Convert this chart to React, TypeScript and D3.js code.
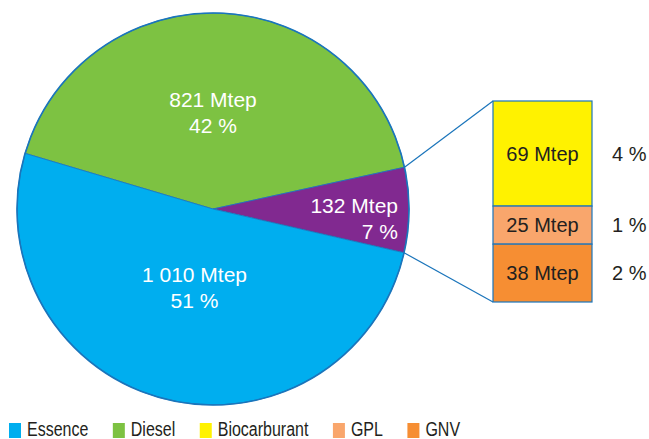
import React, { useEffect, useRef } from 'react';
import * as d3 from 'd3';

// main pie
const pieLabels = ['Diesel', 'Autres', 'Essence'];
const pieValues = [821, 132, 1010];
const pieShares = [42, 7, 51];
const pieColors = ['#7dc242', '#812990', '#00aeef'];

// breakdown of the 132 Mtep slice
const subLabels = ['Biocarburant', 'GPL', 'GNV'];
const subValues = [69, 25, 38];
const subShares = [4, 1, 2];
const subColors = ['#fff200', '#f9a66c', '#f68e33'];

const legendLabels = ['Essence', 'Diesel', 'Biocarburant', 'GPL', 'GNV'];
const legendColors = ['#00aeef', '#7dc242', '#fff200', '#f9a66c', '#f68e33'];

const FONT = 'Liberation Sans, Arial, Helvetica, sans-serif';
const EDGE = '#1b75bb';
const INK = '#231f20';

const App = () => {
    const svgRef = useRef(null);

    useEffect(() => {
        const svg = d3.select(svgRef.current);
        const width = 649;
        const height = 439;
        const cx = 213;
        const cy = 209;
        const r = 196;

        svg.attr('width', width).attr('height', height).selectAll('*').remove();

        const data = pieLabels.map((l, i) => ({ label: l, value: pieValues[i], share: pieShares[i], color: pieColors[i] }));

        // angles follow the rounded shares, as in the original figure
        const start = -73.5 * Math.PI / 180;
        const pie = d3.pie().value(d => d.share).sort(null)
            .startAngle(start).endAngle(start + 2 * Math.PI);
        const arcs = pie(data);
        const arc = d3.arc().innerRadius(0).outerRadius(r);

        const g = svg.append('g').attr('transform', `translate(${cx},${cy})`);
        g.selectAll('path')
            .data(arcs)
            .enter()
            .append('path')
            .attr('d', arc)
            .attr('fill', d => d.data.color)
            .attr('stroke', EDGE)
            .attr('stroke-width', 0.8);
        g.append('circle')
            .attr('r', r)
            .attr('fill', 'none')
            .attr('stroke', EDGE)
            .attr('stroke-width', 1.6);

        // pie labels
        const labelPos = [
            { x: 0, y: -102, anchor: 'middle' },
            { x: 185, y: 4, anchor: 'end' },
            { x: -18.5, y: 73, anchor: 'middle' },
        ];
        arcs.forEach((a, i) => {
            const p = labelPos[i];
            const t = g.append('text')
                .attr('x', p.x)
                .attr('y', p.y)
                .attr('text-anchor', p.anchor)
                .attr('fill', '#ffffff')
                .attr('font-family', FONT)
                .attr('font-size', 21);
            t.append('tspan').attr('x', p.x).text(`${d3.format(',')(a.data.value).replace(',', ' ')} Mtep`);
            t.append('tspan').attr('x', p.x).attr('dy', 26).text(`${a.data.share} %`);
        });

        // stacked bar for the small slice
        const barX = 493;
        const barW = 99;
        const y = d3.scaleLinear()
            .domain([0, d3.sum(subValues)])
            .range([101, 302]);
        let acc = 0;
        const stack = subValues.map((v, i) => {
            const s = { label: subLabels[i], value: v, share: subShares[i], color: subColors[i], y0: acc, y1: acc + v };
            acc += v;
            return s;
        });

        // connector lines
        const other = arcs[1];
        const pt = ang => [cx + r * Math.sin(ang), cy - r * Math.cos(ang)];
        const p1 = pt(other.startAngle);
        const p2 = pt(other.endAngle);
        svg.append('line')
            .attr('x1', p1[0]).attr('y1', p1[1])
            .attr('x2', barX).attr('y2', y(0))
            .attr('stroke', EDGE).attr('stroke-width', 1.2);
        svg.append('line')
            .attr('x1', p2[0]).attr('y1', p2[1])
            .attr('x2', barX).attr('y2', y(acc))
            .attr('stroke', EDGE).attr('stroke-width', 1.2);

        svg.selectAll('.seg')
            .data(stack)
            .enter()
            .append('rect')
            .attr('class', 'seg')
            .attr('x', barX)
            .attr('y', d => y(d.y0))
            .attr('width', barW)
            .attr('height', d => y(d.y1) - y(d.y0))
            .attr('fill', d => d.color)
            .attr('stroke', EDGE)
            .attr('stroke-width', 1.2);

        svg.selectAll('.seglabel')
            .data(stack)
            .enter()
            .append('text')
            .attr('class', 'seglabel')
            .attr('x', barX + barW / 2)
            .attr('y', d => (y(d.y0) + y(d.y1)) / 2 + 7)
            .attr('text-anchor', 'middle')
            .attr('fill', INK)
            .attr('font-family', FONT)
            .attr('font-size', 20)
            .text(d => `${d.value} Mtep`);

        svg.selectAll('.segpct')
            .data(stack)
            .enter()
            .append('text')
            .attr('class', 'segpct')
            .attr('x', 612)
            .attr('y', d => (y(d.y0) + y(d.y1)) / 2 + 7)
            .attr('fill', INK)
            .attr('font-family', FONT)
            .attr('font-size', 20)
            .text(d => `${d.share} %`);

        // legend (narrow type, as in the source)
        const legend = svg.append('g');
        const squeeze = 0.82;
        let lx = 9;
        legendLabels.forEach((l, i) => {
            legend.append('rect')
                .attr('x', lx).attr('y', 423)
                .attr('width', 12).attr('height', 15)
                .attr('fill', legendColors[i]);
            const t = legend.append('text')
                .attr('transform', `translate(${lx + 18},436) scale(${squeeze},1)`)
                .attr('fill', INK)
                .attr('font-family', FONT)
                .attr('font-size', 19.5)
                .text(l);
            const w = t.node().getComputedTextLength() * squeeze;
            lx += 18 + w + 24.5;
        });
    }, []);

    return <svg ref={svgRef} style={{ position: 'absolute', left: 0, top: 0 }}></svg>;
};

export default App;
